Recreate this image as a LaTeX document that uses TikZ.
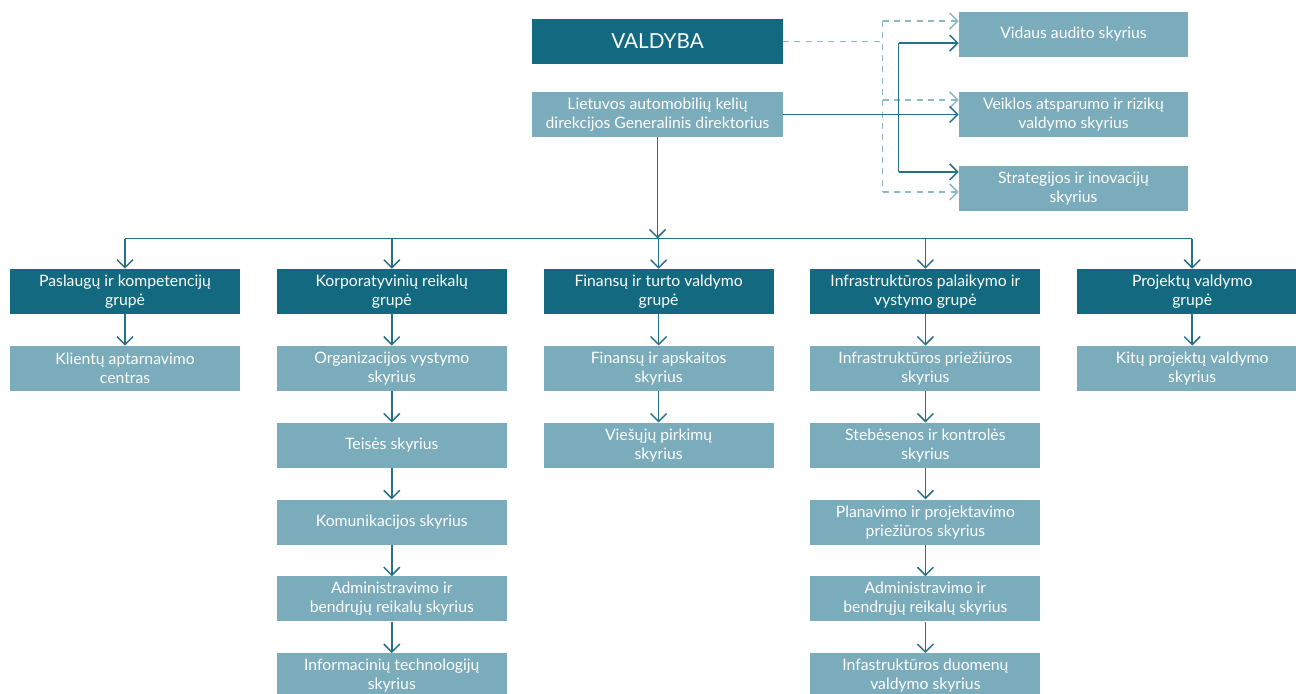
\documentclass[tikz,border=0pt]{standalone}
\usepackage{fontspec}
\setmainfont{Lato}
\usepackage{xcolor}
\usetikzlibrary{arrows.meta,positioning}
\definecolor{tealdark}{HTML}{136A80}
\definecolor{teallight}{HTML}{7BACBB}
\definecolor{linecol}{HTML}{25718A}
\definecolor{dashcol}{HTML}{8DB9C6}

\begin{document}
\begin{tikzpicture}[x=0.75pt, y=-0.75pt, node distance=23.5pt and 27.2pt, grp/.style={fill=tealdark, text=white, minimum width=172.5pt, minimum height=33.75pt, inner sep=0pt, align=center, font=\fontsize{11.8}{14.2}\selectfont}, unit/.style={grp, fill=teallight}, arrow/.style={-{Straight Barb[length=6pt,width=12pt]}, line width=1.1pt, linecol}, dasharrow/.style={-{Straight Barb[length=6pt,width=12pt]}, line width=1.1pt, dashcol, dash pattern=on 4.5pt off 4pt}, dashline/.style={line width=1.1pt, dashcol, dash pattern=on 4.5pt off 4pt}]
\useasboundingbox[fill=white] (0,0) rectangle (1296,693);
\node[grp, minimum width=188pt, font=\fontsize{15.5}{18}\selectfont] (board) at (657.5,41.5) {VALDYBA};
\node[unit, minimum width=188pt] (gd) at (657.5,114.5) {Lietuvos automobilių kelių\\direkcijos Generalinis direktorius};
\node[unit, minimum width=171.75pt] (audit) at (1073.5,34.5) {Vidaus audito skyrius};
\node[unit, minimum width=171.75pt] (risk) at (1073.5,114.5) {Veiklos atsparumo ir rizikų\\valdymo skyrius};
\node[unit, minimum width=171.75pt] (strat) at (1073.5,188.5) {Strategijos ir inovacijų\\skyrius};
\coordinate (spine) at (898.5,0);
\coordinate (dspine) at (882.5,0);
\coordinate (bus) at (0,238.5);
% groups
\node[grp] (g1) at (125,291.5) {Paslaugų ir kompetencijų\\grupė};
\node[grp, right=of g1] (g2) {Korporatyvinių reikalų\\grupė};
\node[grp, right=of g2] (g3) {Finansų ir turto valdymo\\grupė};
\node[grp, right=of g3] (g4) {Infrastruktūros palaikymo ir\\vystymo grupė};
\node[grp, right=of g4] (g5) {Projektų valdymo\\grupė};
% units
\node[unit, below=of g1] (u11) {Klientų aptarnavimo\\centras};
\node[unit, below=of g2] (u21) {Organizacijos vystymo\\skyrius};
\node[unit, below=of u21] (u22) {Teisės skyrius};
\node[unit, below=of u22] (u23) {Komunikacijos skyrius};
\node[unit, below=of u23] (u24) {Administravimo ir\\bendrųjų reikalų skyrius};
\node[unit, below=of u24] (u25) {Informacinių technologijų\\skyrius};
\node[unit, below=of g3] (u31) {Finansų ir apskaitos\\skyrius};
\node[unit, below=of u31] (u32) {Viešųjų pirkimų\\skyrius};
\node[unit, below=of g4] (u41) {Infrastruktūros priežiūros\\skyrius};
\node[unit, below=of u41] (u42) {Stebėsenos ir kontrolės\\skyrius};
\node[unit, below=of u42] (u43) {Planavimo ir projektavimo\\priežiūros skyrius};
\node[unit, below=of u43] (u44) {Administravimo ir\\bendrųjų reikalų skyrius};
\node[unit, below=of u44] (u45) {Infastruktūros duomenų\\valdymo skyrius};
\node[unit, below=of g5] (u51) {Kitų projektų valdymo\\skyrius};
% board and director links
\draw[dashline] (board.east) -- (dspine |- board.east);
\draw[dashline] ([yshift=10.1pt]dspine |- audit.west) -- ([yshift=-2.6pt]dspine |- strat.west);
\draw[dasharrow] ([yshift=10.1pt]dspine |- audit.west) -- ([yshift=10.1pt]audit.west);
\draw[dasharrow] ([yshift=10.9pt]dspine |- risk.west) -- ([yshift=10.9pt]risk.west);
\draw[dasharrow] ([yshift=-2.6pt]dspine |- strat.west) -- ([yshift=-2.6pt]strat.west);
\draw[arrow] (gd.east) -- (risk.west);
\draw[linecol, line width=1.1pt] ([yshift=-6.4pt]spine |- audit.west) -- ([yshift=12.4pt]spine |- strat.west);
\draw[arrow] ([yshift=-6.4pt]spine |- audit.west) -- ([yshift=-6.4pt]audit.west);
\draw[arrow] ([yshift=12.4pt]spine |- strat.west) -- ([yshift=12.4pt]strat.west);
% bus to groups
\draw[arrow] (gd.south) -- (gd.south |- bus);
\draw[linecol, line width=1.1pt] (g1.north |- bus) -- (g5.north |- bus);
\draw[arrow](g1.north |- bus)--(g1); \draw[arrow](g2.north |- bus)--(g2); \draw[arrow](g3.north |- bus)--(g3); \draw[arrow](g4.north |- bus)--(g4); \draw[arrow](g5.north |- bus)--(g5);
\draw[arrow](g1)--(u11); \draw[arrow](g2)--(u21); \draw[arrow](u21)--(u22); \draw[arrow](u22)--(u23); \draw[arrow](u23)--(u24); \draw[arrow](u24)--(u25);
\draw[arrow](g3)--(u31); \draw[arrow](u31)--(u32); \draw[arrow](g4)--(u41); \draw[arrow](u41)--(u42); \draw[arrow](u42)--(u43); \draw[arrow](u43)--(u44); \draw[arrow](u44)--(u45); \draw[arrow](g5)--(u51);
\end{tikzpicture}
\end{document}
